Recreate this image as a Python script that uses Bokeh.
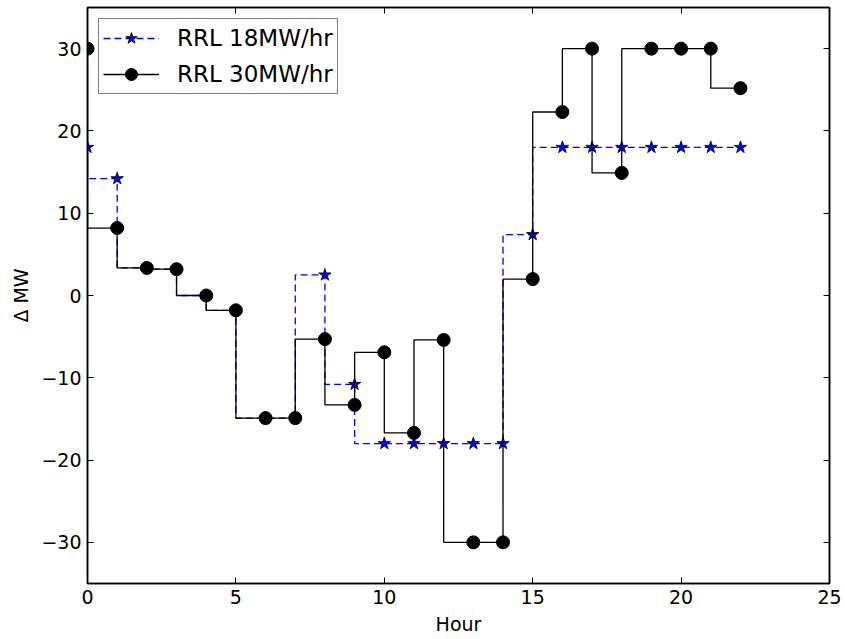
from bokeh.plotting import figure
from bokeh.models import LinearAxis, FixedTicker, Legend, LegendItem, Range1d
from bokeh.embed import file_html
from bokeh.resources import INLINE

hours = list(range(23))
rrl18 = [18.0, 14.2, 3.35, 3.2, 0.0, -1.8, -14.9, -14.9, 2.5, -10.8, -18.0, -18.0, -18.0, -18.0, -18.0,
         7.4, 18.0, 18.0, 18.0, 18.0, 18.0, 18.0, 18.0]
rrl30 = [30.0, 8.2, 3.35, 3.2, 0.0, -1.8, -14.9, -14.9, -5.3, -13.3, -6.9, -16.7, -5.4, -30.0, -30.0,
         2.0, 22.3, 30.0, 14.9, 30.0, 30.0, 30.0, 25.2]
x_ticks = [0, 5, 10, 15, 20, 25]
y_ticks = [-30, -20, -10, 0, 10, 20, 30]
series_labels = ["RRL 18MW/hr", "RRL 30MW/hr"]

FONT = "DejaVu Sans"

p = figure(width=845, height=639, output_backend="svg", toolbar_location=None,
           x_range=Range1d(0, 25), y_range=Range1d(-35, 35),
           x_axis_location=None, y_axis_location=None)
p.min_border_left = 87
p.min_border_right = 16
p.min_border_top = 7
p.min_border_bottom = 56
p.xgrid.visible = False
p.ygrid.visible = False
p.outline_line_color = "black"
p.outline_line_width = 1.5
p.background_fill_color = "white"
p.border_fill_color = "white"

def make_axis(ticks, show_labels, label=None):
    ax = LinearAxis(ticker=FixedTicker(ticks=ticks))
    ax.major_tick_in = 6
    ax.major_tick_out = 0
    ax.minor_tick_in = 0
    ax.minor_tick_out = 0
    ax.axis_line_color = "black"
    ax.axis_line_width = 1.5
    ax.major_tick_line_color = "black"
    ax.major_tick_line_width = 1
    ax.major_label_text_font = FONT
    ax.major_label_text_color = "black"
    ax.major_label_text_font_size = "19px"
    if show_labels:
        ax.major_label_standoff = 6
        ax.major_label_overrides = {t: (("\u2212" + str(abs(t))) if t < 0 else str(t)) for t in ticks}
    else:
        ax.major_label_standoff = 0
        ax.major_label_overrides = {t: "" for t in ticks}
    if label:
        ax.axis_label = label
        ax.axis_label_text_font = FONT
        ax.axis_label_text_font_size = "19px"
        ax.axis_label_text_font_style = "normal"
        ax.axis_label_text_color = "black"
        ax.axis_label_standoff = 6
    return ax

p.add_layout(make_axis(x_ticks, True, "Hour"), "below")
p.add_layout(make_axis(y_ticks, True, "\u0394 MW"), "left")
p.add_layout(make_axis(x_ticks, False), "above")
p.add_layout(make_axis(y_ticks, False), "right")

l18 = p.step(hours, rrl18, mode="before", line_color="blue", line_width=1.3, line_dash="7 4")
s18 = p.scatter(hours, rrl18, marker="star", size=13, fill_color="blue", line_color="black", line_width=0.8)
l30 = p.step(hours, rrl30, mode="before", line_color="black", line_width=1.3)
s30 = p.scatter(hours, rrl30, marker="circle", size=13, fill_color="black", line_color="black")

legend = Legend(items=[LegendItem(label=series_labels[0], renderers=[l18, s18]),
                       LegendItem(label=series_labels[1], renderers=[l30, s30])],
                location="top_left")
legend.label_text_font = FONT
legend.label_text_font_size = "23px"
legend.label_text_color = "black"
legend.border_line_color = "black"
legend.border_line_width = 1.5
legend.margin = 11
legend.padding = 4
legend.spacing = 6
legend.glyph_width = 56
legend.glyph_height = 30
legend.label_height = 30
legend.label_standoff = 18
legend.background_fill_alpha = 1
p.add_layout(legend)

open("out.html", "w").write(file_html(p, INLINE))
